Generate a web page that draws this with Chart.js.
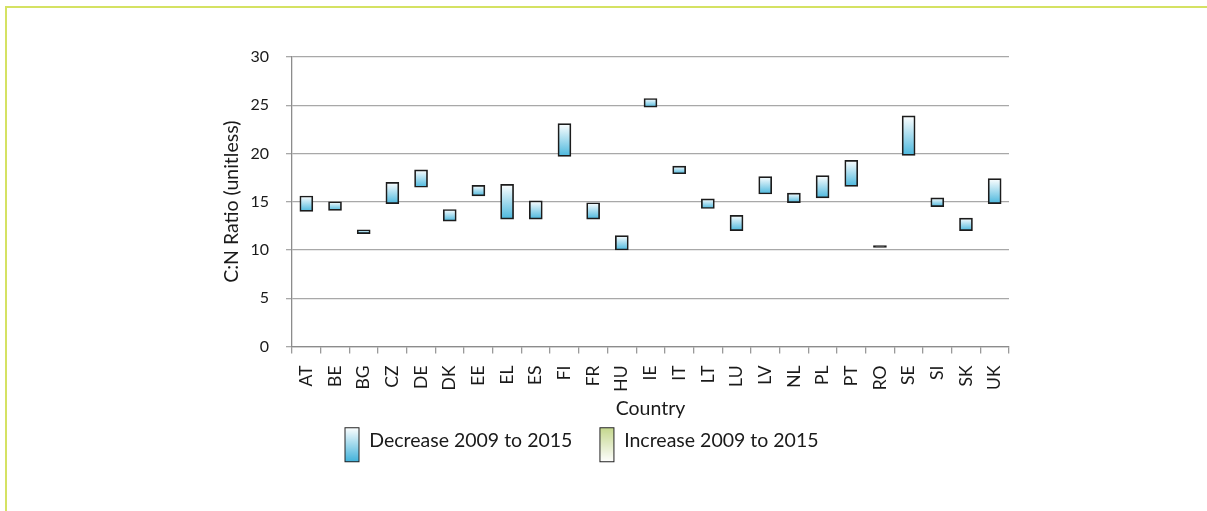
<html><head><meta charset="utf-8">
<script src="https://cdn.jsdelivr.net/npm/chart.js@4.4.1/dist/chart.umd.min.js"></script>
<style>
  body { margin: 0; background: #fff; }
  #wrap { position: relative; width: 1207px; height: 511px; overflow: hidden; }
  #frame { position: absolute; left: 5px; top: 6px; width: 1300px; height: 600px;
           border-left: 2px solid #d5e263; border-top: 2px solid #d5e263; }
  #myChart { position: absolute; left: 0; top: 0; }
</style>
</head>
<body>
<div id="wrap">
  <div id="frame"></div>
  <canvas id="myChart" width="1207" height="511"></canvas>
</div>
<script>
// C:N ratio per country
var countries = ['AT','BE','BG','CZ','DE','DK','EE','EL','ES','FI','FR','HU','IE','IT','LT','LU','LV','NL','PL','PT','RO','SE','SI','SK','UK'];
var cn2009 = [15.6, 15.0, 12.1, 17.0, 18.3, 14.2, 16.7, 16.8, 15.1, 23.1, 14.9, 11.5, 25.7, 18.7, 15.3, 13.6, 17.6, 15.9, 17.7, 19.3, 10.45, 23.9, 15.4, 13.3, 17.4];
var cn2015 = [14.0, 14.1, 11.7, 14.8, 16.5, 13.0, 15.6, 13.2, 13.2, 19.7, 13.2, 10.0, 24.8, 17.9, 14.3, 12.0, 15.8, 14.9, 15.4, 16.6, 10.28, 19.8, 14.5, 12.0, 14.8];
var yTicks = [0, 5, 10, 15, 20, 25, 30];

var font = "Lato, 'Liberation Sans', sans-serif";
var textCol = '#1a1a1a';

var decreaseBars = countries.map(function (c, i) {
  return cn2009[i] >= cn2015[i] ? [cn2015[i], cn2009[i]] : null;
});
var increaseBars = countries.map(function (c, i) {
  return cn2015[i] > cn2009[i] ? [cn2009[i], cn2015[i]] : null;
});

function gradFill(topCol, botCol) {
  return function (ctx) {
    var chart = ctx.chart;
    if (!chart.chartArea || ctx.type !== 'data' || !ctx.raw) return botCol;
    var ys = chart.scales.y;
    var top = ys.getPixelForValue(Math.max(ctx.raw[0], ctx.raw[1]));
    var bot = ys.getPixelForValue(Math.min(ctx.raw[0], ctx.raw[1]));
    if (bot - top < 3) return '#111';
    var g = chart.ctx.createLinearGradient(0, top, 0, bot);
    g.addColorStop(0, topCol);
    g.addColorStop(1, botCol);
    return g;
  };
}

// legend swatches: tall boxes, sitting a little lower than the text
function swatch(topCol, botCol) {
  var c = document.createElement('canvas');
  c.width = 17; c.height = 46;
  var x = c.getContext('2d');
  var g = x.createLinearGradient(0, 10, 0, 45);
  g.addColorStop(0, topCol);
  g.addColorStop(1, botCol);
  x.fillStyle = g;
  x.fillRect(1, 10, 15, 35);
  x.strokeStyle = '#222';
  x.lineWidth = 1;
  x.strokeRect(1.5, 10.5, 14, 34);
  return c;
}
var legendImgs = [swatch('#ffffff', '#3fb1da'), swatch('#c4d78c', '#ffffff')];

// the legend sits a bit left of centre and closer to the axis in the original
var shiftLegend = {
  id: 'shiftLegend',
  afterLayout: function (chart) {
    var lg = chart.legend;
    lg.left -= 32; lg.right -= 32;
    lg.top -= 17; lg.bottom += 20; // bottom grown so the tall swatches are not clipped
  }
};

var ctx = document.getElementById('myChart');
var myChart = new Chart(ctx, {
  type: 'bar',
  data: {
    labels: countries,
    datasets: [{
      label: 'Decrease 2009 to 2015',
      data: decreaseBars,
      backgroundColor: gradFill('#ffffff', '#4ab7dd'),
      borderColor: '#1c1c1c',
      borderWidth: 1.7,
      borderSkipped: false,
      barThickness: 13,
      grouped: false
    }, {
      label: 'Increase 2009 to 2015',
      data: increaseBars,
      backgroundColor: gradFill('#c4d78c', '#ffffff'),
      borderColor: '#1c1c1c',
      borderWidth: 1.7,
      borderSkipped: false,
      barThickness: 13,
      grouped: false
    }]
  },
  plugins: [shiftLegend],
  options: {
    responsive: false,
    animation: false,
    layout: { padding: { left: 218, right: 198, top: 57, bottom: 34 } },
    scales: {
      x: {
        offset: true,
        afterFit: function (scale) { scale.height = 74; },
        grid: { display: true, drawOnChartArea: false, offset: true, color: '#9a9a9a', tickLength: 7, lineWidth: 1.3 },
        border: { color: '#8c8c8c', width: 1.3 },
        ticks: { color: textCol, font: { family: font, size: 17.5 }, minRotation: 90, maxRotation: 90, padding: 12 },
        title: { display: true, text: 'Country', color: textCol, font: { family: font, size: 19.5 }, padding: { top: 0, bottom: 0 } }
      },
      y: {
        min: 0, max: 30,
        afterBuildTicks: function (axis) { axis.ticks = yTicks.map(function (v) { return { value: v }; }); },
        afterFit: function (scale) { scale.width = 74; },
        grid: { color: '#a8a8a8', lineWidth: 1.3, tickLength: 6 },
        border: { color: '#8c8c8c', width: 1.3 },
        ticks: { color: textCol, font: { family: font, size: 16 }, padding: 17 },
        title: { display: true, text: 'C:N Ratio (unitless)', color: textCol, font: { family: font, size: 19.5 }, padding: { top: 2, bottom: 0 } }
      }
    },
    plugins: {
      tooltip: { enabled: false },
      legend: {
        position: 'bottom',
        labels: {
          usePointStyle: true,
          pointStyleWidth: 15,
          padding: 27,
          color: textCol,
          font: { family: font, size: 19.5 },
          generateLabels: function (chart) {
            return chart.data.datasets.map(function (ds, i) {
              return { text: ds.label, pointStyle: legendImgs[i], fillStyle: 'transparent',
                       strokeStyle: 'transparent', lineWidth: 0, hidden: false, datasetIndex: i, fontColor: textCol };
            });
          }
        }
      }
    }
  }
});
</script>
</body></html>
